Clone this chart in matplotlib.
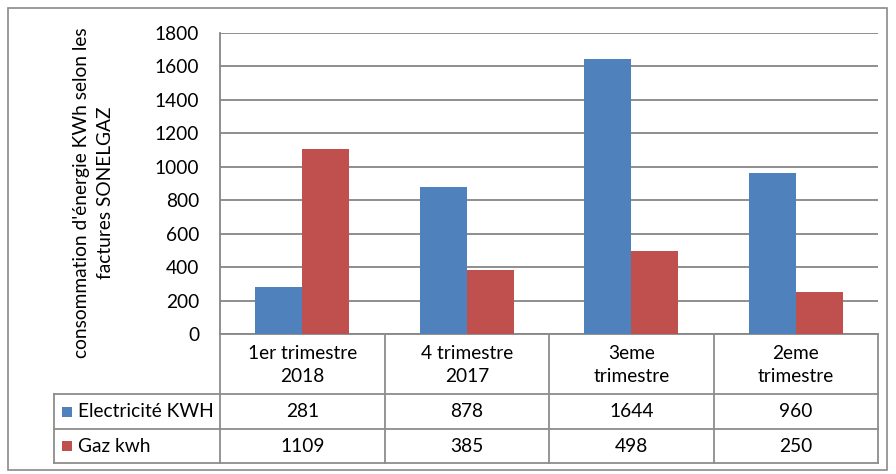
"""
Consommation d'énergie - histogramme avec tableau de données
"""

import matplotlib.pyplot as plt
from matplotlib.lines import Line2D
from matplotlib.patches import Rectangle

# données
categories = ["1er trimestre\n2018", "4 trimestre\n2017", "3eme\ntrimestre", "2eme\ntrimestre"]
electricite = [281, 878, 1644, 960]
gaz = [1109, 385, 498, 250]
series_names = ["Electricité KWH", "Gaz kwh"]
y_ticks = [0, 200, 400, 600, 800, 1000, 1200, 1400, 1600, 1800]
y_label = "consommation d'énergie KWh selon les\nfactures SONELGAZ"

BLUE = "#4F81BD"
RED = "#C0504D"
GRID = "#868686"
FONT = "Lato"
FS = 13.8

W, H = 896, 474
plt.rcParams["font.family"] = [FONT, "DejaVu Sans"]

fig = plt.figure(figsize=(W / 100, H / 100), dpi=100)


def fx(px):
    return px / W


def fy(py):
    return 1 - py / H


# bordure extérieure
fig.add_artist(Rectangle((fx(8), fy(470)), fx(879), (462) / H, transform=fig.transFigure,
                         fill=False, edgecolor="#8a8a8a", linewidth=1.2))

left, right, top, bottom = 220, 878, 33, 334
ax = fig.add_axes([fx(left), fy(bottom), fx(right - left), (bottom - top) / H])

n = len(categories)
xs = list(range(n))
bw = 0.286
ax.bar([x - bw / 2 for x in xs], electricite, width=bw, color=BLUE, zorder=3)
ax.bar([x + bw / 2 for x in xs], gaz, width=bw, color=RED, zorder=3)

ax.set_xlim(-0.5, n - 0.5)
ax.set_ylim(0, 1800)
ax.set_yticks(y_ticks)
ax.set_yticklabels([str(t) for t in y_ticks], fontsize=FS)
ax.tick_params(axis="y", length=0, pad=15)
ax.set_xticks([])
ax.grid(axis="y", color=GRID, linewidth=1.3, zorder=0)
for s in ["top", "right"]:
    ax.spines[s].set_visible(False)
ax.spines["left"].set_color(GRID)
ax.spines["bottom"].set_color(GRID)
ax.spines["left"].set_linewidth(1.3)
ax.spines["bottom"].set_linewidth(1.3)

fig.text(fx(93), fy(193), y_label, rotation=90, ha="center", va="center",
         fontsize=FS, linespacing=1.5)

# tableau de données
tcol = "#8c8c8c"
col_w = (right - left) / n
row_lines = [394, 429, 463]
tab_left = 54


def hline(y, x0, x1):
    fig.add_artist(Line2D([fx(x0), fx(x1)], [fy(y), fy(y)], color=tcol, linewidth=1.3))


def vline(x, y0, y1):
    fig.add_artist(Line2D([fx(x), fx(x)], [fy(y0), fy(y1)], color=tcol, linewidth=1.3))


for y in row_lines:
    hline(y, tab_left, right)
vline(tab_left, 394, 463)
for i in range(n + 1):
    vline(left + i * col_w, bottom, 463)

for i, cat in enumerate(categories):
    cx = left + (i + 0.5) * col_w
    fig.text(fx(cx), fy(365), cat, ha="center", va="center", fontsize=FS, linespacing=1.45)
    fig.text(fx(cx), fy(411.5), str(electricite[i]), ha="center", va="center", fontsize=FS)
    fig.text(fx(cx), fy(446), str(gaz[i]), ha="center", va="center", fontsize=FS)

for name, color, yc in zip(series_names, [BLUE, RED], [411.5, 446]):
    fig.add_artist(Rectangle((fx(62), fy(yc + 5)), fx(10), 10 / H, transform=fig.transFigure,
                             facecolor=color, edgecolor="none"))
    fig.text(fx(78), fy(yc), name, ha="left", va="center", fontsize=FS)

fig.savefig("out.png", dpi=100)
